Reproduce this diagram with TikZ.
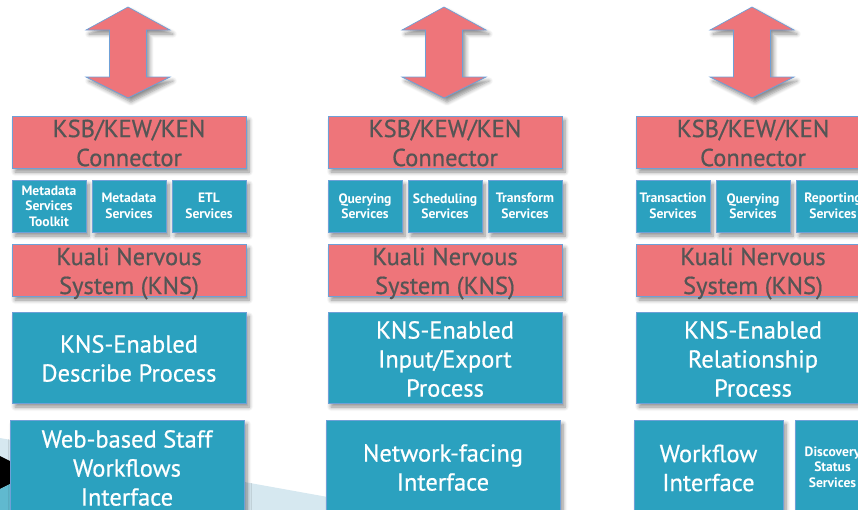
\documentclass[tikz,border=0pt]{standalone}
\usepackage{fontspec}
\setmainfont{PT Sans}
\newfontfamily\kfont{PT Sans}[FakeBold=0.6]
\usetikzlibrary{shadows.blur}
\definecolor{kpink}{RGB}{238,117,122}
\definecolor{kteal}{RGB}{43,161,191}
\definecolor{kedge}{RGB}{110,160,215}
\definecolor{kgray}{RGB}{85,85,85}
\definecolor{kswoosh}{RGB}{214,232,240}
\newcommand\kuarrow[1]{%
  \path[twoway,shift={(#1,0)}] (0,7) -- (42,30) -- (18.5,30) -- (18.5,77) -- (42,77) -- (0,98)
    -- (-42,77) -- (-18.5,77) -- (-18.5,30) -- (-42,30) -- cycle;}
\begin{document}
\begin{tikzpicture}[x=1pt,y=-1pt,
  shad/.style={blur shadow={shadow xshift=3pt,shadow yshift=-4pt,shadow blur steps=6,shadow opacity=45,shadow blur radius=4pt}},
  box/.style={rectangle,inner sep=0pt,outer sep=0pt,draw=kedge,line width=0.7pt,shad},
  pinkbox/.style={box,fill=kpink},
  tealbox/.style={box,fill=kteal},
  pinktext/.style={font=\kfont\fontsize{24.5}{29}\selectfont,text=kgray,align=center,inner sep=0pt},
  whitetext/.style={font=\kfont\fontsize{24.5}{29}\selectfont,text=white,align=center,inner sep=0pt},
  smalltext/.style={font=\bfseries\fontsize{13.6}{15.5}\selectfont,text=white,align=center,inner sep=0pt},
  twoway/.style={fill=kpink,draw=kedge,line width=0.7pt,shad}]
\useasboundingbox (0,0) rectangle (858,509);
\clip (0,0) rectangle (858,509);
% background swoosh
\fill[kswoosh] (0,438) -- (400,510) -- (0,510) -- cycle;
\fill[black] (0,456) -- (10,461) -- (10,484) -- (0,489) -- cycle;
\fill[kteal!75] (0,489) -- (10,484) -- (10,510) -- (0,510) -- cycle;
% arrows
\kuarrow{128}
\kuarrow{444}
\kuarrow{752}
% ---------- column 1
\node[pinkbox,minimum width=234,minimum height=52] (a1) at (129,142) {};
\node[pinktext] (a1t) at (129,143) {KSB/KEW/KEN\\Connector};
\node[tealbox,minimum width=74,minimum height=52] (a2) at (49,206) {};
\node[smalltext] (a2t) at (a2.center) {Metadata\\Services\\Toolkit};
\node[tealbox,minimum width=74,minimum height=52] (a3) at (129,206) {};
\node[smalltext] (a3t) at (a3.center) {Metadata\\Services};
\node[tealbox,minimum width=74,minimum height=52] (a4) at (209,206) {};
\node[smalltext] (a4t) at (a4.center) {ETL\\Services};
\node[pinkbox,minimum width=234,minimum height=52] (a5) at (129,270) {};
\node[pinktext] (a5t) at (129,273.5) {Kuali Nervous\\System (KNS)};
\node[tealbox,minimum width=234,minimum height=91] (a6) at (129,357.5) {};
\node[whitetext] (a6t) at (129,358.5) {KNS-Enabled\\Describe Process};
\node[tealbox,minimum width=234,minimum height=110] (a7) at (127,475) {};
\node[whitetext] (a7t) at (127,468) {Web-based Staff\\Workflows\\Interface};
% ---------- column 2
\node[pinkbox,minimum width=234,minimum height=52] (b1) at (445,142) {};
\node[pinktext] (b1t) at (445,143) {KSB/KEW/KEN\\Connector};
\node[tealbox,minimum width=74,minimum height=52] (b2) at (365,206) {};
\node[smalltext] (b2t) at (b2.center) {Querying\\Services};
\node[tealbox,minimum width=74,minimum height=52] (b3) at (445,206) {};
\node[smalltext] (b3t) at (b3.center) {Scheduling\\Services};
\node[tealbox,minimum width=74,minimum height=52] (b4) at (525,206) {};
\node[smalltext] (b4t) at (b4.center) {Transform\\Services};
\node[pinkbox,minimum width=234,minimum height=52] (b5) at (445,270) {};
\node[pinktext] (b5t) at (445,273.5) {Kuali Nervous\\System (KNS)};
\node[tealbox,minimum width=234,minimum height=91] (b6) at (445,357.5) {};
\node[whitetext] (b6t) at (445,359) {KNS-Enabled\\Input/Export\\Process};
\node[tealbox,minimum width=234,minimum height=110] (b7) at (443,475) {};
\node[whitetext] (b7t) at (443,467.5) {Network-facing\\Interface};
% ---------- column 3
\node[pinkbox,minimum width=234,minimum height=52] (c1) at (753,142) {};
\node[pinktext] (c1t) at (753,143) {KSB/KEW/KEN\\Connector};
\node[tealbox,minimum width=74,minimum height=52] (c2) at (673,206) {};
\node[smalltext] (c2t) at (c2.center) {Transaction\\Services};
\node[tealbox,minimum width=74,minimum height=52] (c3) at (753,206) {};
\node[smalltext] (c3t) at (c3.center) {Querying\\Services};
\node[tealbox,minimum width=74,minimum height=52] (c4) at (833,206) {};
\node[smalltext] (c4t) at (c4.center) {Reporting\\Services};
\node[pinkbox,minimum width=234,minimum height=52] (c5) at (753,270) {};
\node[pinktext] (c5t) at (753,273.5) {Kuali Nervous\\System (KNS)};
\node[tealbox,minimum width=234,minimum height=91] (c6) at (753,357.5) {};
\node[whitetext] (c6t) at (753,359) {KNS-Enabled\\Relationship\\Process};
\node[tealbox,minimum width=149,minimum height=110] (c7) at (708.5,475) {};
\node[whitetext] (c7t) at (708.5,468) {Workflow\\Interface};
\node[tealbox,minimum width=75,minimum height=110] (c8) at (832.5,475) {};
\node[smalltext] (c8t) at (832.5,467) {Discovery\\Status\\Services};
\end{tikzpicture}
\end{document}
